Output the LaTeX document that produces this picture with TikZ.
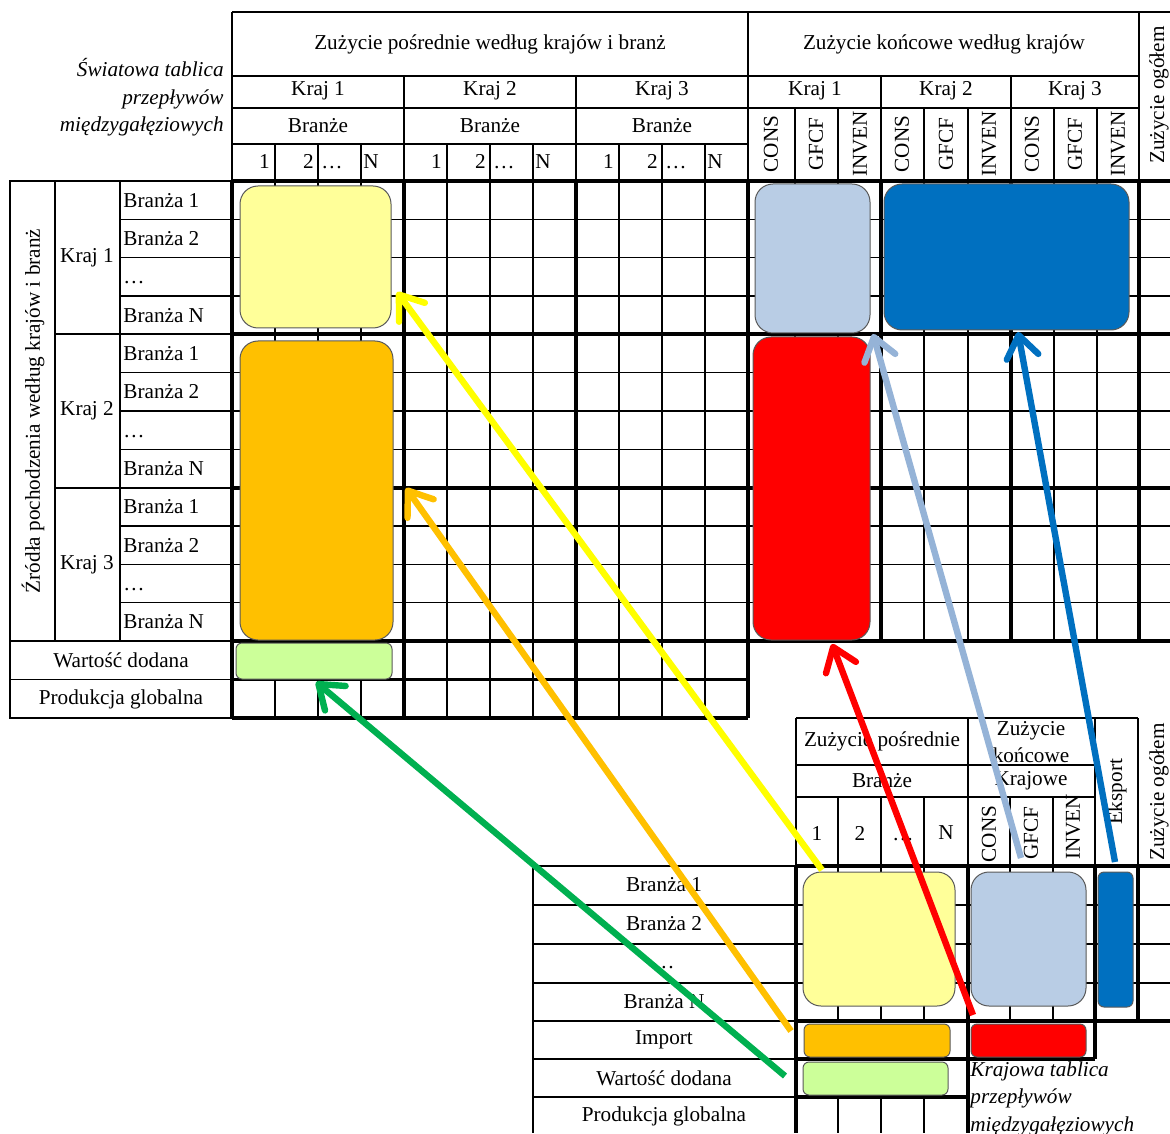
\documentclass[tikz,border=0pt]{standalone}
\usepackage{fontspec}
\setmainfont{Liberation Serif}
\usetikzlibrary{arrows.meta}

\definecolor{jzolty}{HTML}{FFFF99}
\definecolor{pomar}{HTML}{FFC000}
\definecolor{jziel}{HTML}{CCFF99}
\definecolor{jnieb}{HTML}{B9CDE5}
\definecolor{nieb}{HTML}{0070C0}
\definecolor{czerw}{HTML}{FF0000}
\definecolor{strzzolta}{HTML}{FFFF00}
\definecolor{strzziel}{HTML}{00B050}
\definecolor{strznieb}{HTML}{95B3D7}

\newcommand{\rozmiar}{\fontsize{10.6}{13.8}\selectfont}

\begin{document}
\begin{tikzpicture}[x=0.5pt, y=-0.5pt, font=\rozmiar, inner sep=0pt,
    cienka/.style={line width=0.8pt},
    gruba/.style={line width=1.8pt},
    blok/.style={draw=black!65, line width=0.5pt, rounded corners=9pt},
    belka/.style={draw=black!65, line width=0.5pt, rounded corners=3pt},
    strzalka/.style={line width=3.2pt, -{Straight Barb[length=11pt, width=16pt, round]}}]

    \useasboundingbox (0,0) rectangle (1170,1133);
    \clip (0,0) rectangle (1170,1133);

    % Swiatowa tablica - naglowek
    \draw[cienka] (232,12) -- (1170,12);
    \draw[cienka] (232,76) -- (1139,76);
    \draw[cienka] (232,108) -- (1139,108);
    \draw[cienka] (232,144) -- (748,144);
    \foreach \x in {232,748,1139}
        \draw[cienka] (\x,12) -- (\x,181);
    \foreach \x in {404,576,881,1011}
        \draw[cienka] (\x,76) -- (\x,181);
    \foreach \x in {275,318,361,447,490,533,619,662,705}
        \draw[cienka] (\x,144) -- (\x,718);
    \foreach \x in {795,838,924,968,1054,1097}
        \draw[cienka] (\x,108) -- (\x,641);

    % Siatka wierszy
    \foreach \k in {1,...,13}
        \draw[cienka] (232,{181+\k*38.33}) -- (748,{181+\k*38.33});
    \foreach \k in {1,...,11}
        \draw[cienka] (748,{181+\k*38.33}) -- (1170,{181+\k*38.33});

    % Grube linie
    \foreach \y in {181,334.3,487.7,641}
        \draw[gruba] (232,\y) -- (1170,\y);
    \draw[gruba] (232,679.3) -- (748,679.3);
    \draw[gruba] (232,717.7) -- (748,717.7);
    \foreach \x in {232,404,576,748}
        \draw[gruba] (\x,181) -- (\x,717.7);
    \foreach \x in {881,1011,1139}
        \draw[gruba] (\x,181) -- (\x,641);

    % Boczek swiatowej tablicy
    \draw[cienka] (10,181) rectangle (232,717.7);
    \draw[cienka] (55,181) -- (55,641);
    \draw[cienka] (120,181) -- (120,641);
    \draw[cienka] (10,641) -- (232,641);
    \draw[cienka] (10,679.3) -- (232,679.3);
    \foreach \y in {334.3,487.7}
        \draw[cienka] (55,\y) -- (232,\y);
    \foreach \k in {1,2,3,5,6,7,9,10,11}
        \draw[cienka] (120,{181+\k*38.33}) -- (232,{181+\k*38.33});

    % Napisy - naglowek
    \node[align=right, font=\rozmiar\itshape, anchor=north east] (tytul) at (224,58)
        {Światowa tablica\\przepływów\\międzygałęziowych};
    \node (zpos) at (490,44) {Zużycie pośrednie według krajów i branż};
    \node (zkon) at (944,44) {Zużycie końcowe według krajów};
    \node[rotate=90] (zog) at (1159,95) {Zużycie ogółem};
    \foreach \x/\n in {318/1,490/2,662/3} {
        \node (kp\n) at (\x,91) {Kraj \n};
        \node (br\n) at (\x,126) {Branże};
    }
    \foreach \x/\n in {815/1,946/2,1075/3}
        \node (kk\n) at (\x,91) {Kraj \n};
    \foreach \o/\n in {232/1,404/2,576/3} {
        \node[anchor=base east] (ja\n) at (\o+38,169) {1};
        \node[anchor=base east] (dw\n) at (\o+82,169) {2};
        \node[anchor=base west] (kr\n) at (\o+89,169) {\dots};
        \node[anchor=base west] (en\n) at (\o+131,169) {N};
    }
    \foreach \x/\t [count=\i] in {771/CONS,816/GFCF,860/INVEN,902/CONS,946/GFCF,
            989/INVEN,1032/CONS,1075/GFCF,1118/INVEN}
        \node[rotate=90] (fd\i) at (\x,144) {\t};

    % Napisy - boczek
    \node[rotate=90] (zrodla) at (33,411) {Źródła pochodzenia według krajów i branż};
    \foreach \g/\s in {1/0,2/4,3/8} {
        \node (kraj\g) at (87,{181+(\s+2)*38.33}) {Kraj \g};
        \node[anchor=west] (ba\g) at (123,{181+(\s+0.5)*38.33}) {Branża 1};
        \node[anchor=west] (bb\g) at (123,{181+(\s+1.5)*38.33}) {Branża 2};
        \node[anchor=base west] (bc\g) at (123,{181+(\s+2.5)*38.33+7}) {\dots};
        \node[anchor=west] (bd\g) at (123,{181+(\s+3.5)*38.33}) {Branża N};
    }
    \node (wd) at (121,660) {Wartość dodana};
    \node (pg) at (121,699) {Produkcja globalna};

    % Krajowa tablica - linie
    \draw[cienka] (796,718) -- (1138,718);
    \draw[cienka] (796,765) -- (1095,765);
    \draw[cienka] (796,797) -- (1095,797);
    \foreach \x in {796,968,1095,1138}
        \draw[cienka] (\x,718) -- (\x,866);
    \foreach \x in {838,881,924,1010,1053}
        \draw[cienka] (\x,797) -- (\x,1021);
    \foreach \x in {838,881,924}
        \draw[cienka] (\x,1097) -- (\x,1133);
    \foreach \y in {905,944,983}
        \draw[cienka] (796,\y) -- (1170,\y);
    \draw[cienka] (533,866) -- (533,1133);
    \foreach \y in {866,905,944,983,1021,1059,1097}
        \draw[cienka] (533,\y) -- (796,\y);
    \draw[gruba] (796,866) -- (1170,866);
    \draw[gruba] (796,1021) -- (1170,1021);
    \draw[gruba] (796,1059) -- (1095,1059);
    \draw[gruba] (796,1097) -- (968,1097);
    \draw[gruba] (796,866) -- (796,1133);
    \draw[gruba] (968,866) -- (968,1133);
    \draw[gruba] (1095,866) -- (1095,1059);
    \draw[gruba] (1138,866) -- (1138,1021);

    % Krajowa tablica - napisy
    \node (kzp) at (882,741) {Zużycie pośrednie};
    \node[align=center, font=\fontsize{10.6}{13.5}\selectfont] (kzk) at (1031,742) {Zużycie\\końcowe};
    \node (kbr) at (882,781) {Branże};
    \node (kkr) at (1031,781) {Krajowe};
    \node (kn1) at (817,833) {1};
    \node (kn2) at (860,833) {2};
    \node[anchor=base] (kn3) at (903,840) {\dots};
    \node (kn4) at (946,833) {N};
    \node[rotate=90] (kcons) at (989,834) {CONS};
    \node[rotate=90] (kgfcf) at (1031,833) {GFCF};
    \node[rotate=90] (kinven) at (1073,827) {INVEN};
    \node[rotate=90] (keks) at (1117,792) {Eksport};
    \node[rotate=90] (kzog) at (1159,792) {Zużycie ogółem};
    \node (kb1) at (664,885) {Branża 1};
    \node (kb2) at (664,924) {Branża 2};
    \node[anchor=base] (kb3) at (664,968) {\dots};
    \node (kbn) at (664,1002) {Branża N};
    \node (kimp) at (664,1040) {Import};
    \node (kwd) at (664,1078) {Wartość dodana};
    \node (kpg) at (664,1116) {Produkcja globalna};
    \node[align=left, font=\rozmiar\itshape, anchor=north west] (kraj) at (970,1061)
        {Krajowa tablica\\przepływów\\międzygałęziowych};

    % Bloki kolorowe
    \draw[blok, fill=jzolty] (240,186) rectangle (391,328);
    \draw[blok, fill=pomar] (240,341) rectangle (393,640);
    \draw[belka, fill=jziel] (236,643) rectangle (392,679);
    \draw[blok, fill=jnieb] (755,184) rectangle (870,333);
    \draw[blok, fill=nieb] (884,184) rectangle (1129,330);
    \draw[blok, fill=czerw] (753,337) rectangle (870,640);
    \draw[blok, fill=jzolty] (803,872) rectangle (955,1006);
    \draw[blok, fill=jnieb] (971,872) rectangle (1086,1006);
    \draw[belka, fill=nieb] (1098,872) rectangle (1133,1007);
    \draw[belka, fill=pomar] (804,1024) rectangle (950,1057);
    \draw[belka, fill=czerw] (971,1024) rectangle (1086,1057);
    \draw[belka, fill=jziel] (803,1062) rectangle (948,1095);

    % Strzalki
    \coordinate (s1) at (822,870);  \coordinate (c1) at (397,292);
    \coordinate (s2) at (791,1031); \coordinate (c2) at (406,488);
    \coordinate (s3) at (785,1076); \coordinate (c3) at (316,682);
    \coordinate (s4) at (973,1015); \coordinate (c4) at (832,644);
    \coordinate (s5) at (1021,858); \coordinate (c5) at (873,334);
    \coordinate (s6) at (1115,862); \coordinate (c6) at (1018,332);
    \draw[strzalka, strzzolta] (s1) -- (c1);
    \draw[strzalka, pomar] (s2) -- (c2);
    \draw[strzalka, strzziel] (s3) -- (c3);
    \draw[strzalka, czerw] (s4) -- (c4);
    \draw[strzalka, strznieb] (s5) -- (c5);
    \draw[strzalka, nieb] (s6) -- (c6);
\end{tikzpicture}
\end{document}
